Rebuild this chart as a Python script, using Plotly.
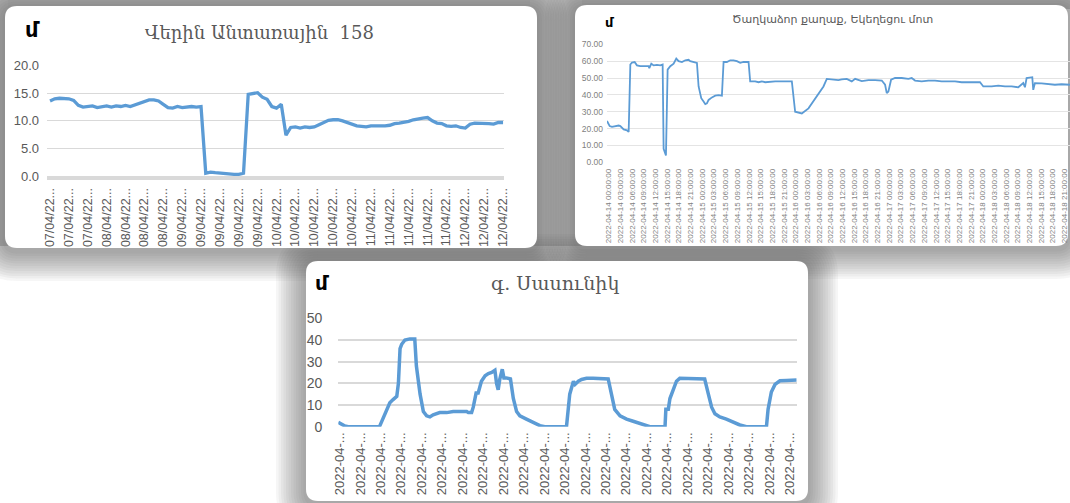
import plotly.graph_objects as go
import pandas as pd

W, H = 1070, 503

# ---------------- data ----------------
c1_title = "Վերին Անտառային  158"
c1_labels = (["07/04/22..."] * 3 + ["08/04/22..."] * 4 + ["09/04/22..."] * 5 +
             ["10/04/22..."] * 5 + ["11/04/22..."] * 5 + ["12/04/22..."] * 3)
c1_values = [13.6, 14.0, 14.1, 14.1, 14.0, 13.7, 12.8, 12.5, 12.6, 12.7,
             12.4, 12.6, 12.7, 12.5, 12.7, 12.6, 12.8, 12.6, 12.9, 13.3,
             13.6, 13.8, 13.8, 13.6, 13.0, 12.4, 12.3, 12.6, 12.4, 12.5,
             12.6, 12.5, 12.6, 0.5, 0.7, 0.6, 0.5, 0.4, 0.3, 0.3,
             0.3, 0.5, 14.8, 15.0, 15.1, 14.3, 13.9, 12.6, 12.3, 13.0,
             7.4, 8.8, 8.9, 8.7, 8.9, 8.8, 8.9, 9.3, 9.7, 10.1,
             10.2, 10.2, 10.0, 9.7, 9.3, 9.1, 9.0, 8.9, 9.1, 9.1,
             9.0, 9.1, 9.2, 9.5, 9.6, 9.7, 9.9, 10.2, 10.4, 10.5,
             10.6, 10.0, 9.6, 9.5, 9.1, 9.0, 9.1, 8.8, 8.7, 9.4,
             9.6, 9.6, 9.6, 9.5, 9.4, 9.7, 9.7]

c2_title = "Ծաղկաձոր քաղաք, Եկեղեցու մոտ"
c2_hours = [-0.43, 0.26, 0.85, 1.71, 2.56, 2.99, 3.42, 3.85, 4.70, 5.13,
            5.56, 5.98, 6.67, 7.26, 8.12, 9.40, 10.26, 10.43, 10.94, 11.54,
            12.39, 13.25, 13.85, 14.10, 14.70, 15.13, 15.81, 16.67, 17.35, 17.95,
            18.80, 19.66, 20.51, 20.94, 21.79, 22.65, 23.08, 23.76, 24.36, 24.79,
            25.21, 25.64, 26.50, 27.35, 28.21, 29.06, 29.49, 30.34, 31.20, 32.05,
            32.91, 33.76, 34.62, 35.90, 36.32, 37.61, 38.46, 39.32, 40.17, 41.45,
            42.74, 44.44, 46.15, 47.01, 47.86, 49.57, 51.28, 52.99, 54.27, 55.13,
            55.98, 57.26, 58.97, 59.83, 61.11, 62.39, 63.25, 64.96, 66.67, 68.38,
            70.09, 70.94, 71.37, 71.79, 72.48, 73.50, 75.21, 76.92, 77.78, 78.63,
            80.34, 82.05, 83.76, 85.47, 87.18, 88.89, 90.60, 92.31, 94.02, 95.30,
            96.15, 98.29, 100.0, 101.71, 103.42, 105.13, 106.41, 106.84, 107.26, 108.12,
            108.72, 108.97, 109.40, 111.11, 112.82, 114.53, 116.24, 118.38]
c2_values = [24.5, 21.5, 21.0, 21.5, 21.8, 21.5, 20.5, 19.5, 19.0, 18.0,
             58.0, 59.2, 59.5, 57.5, 57.0, 57.2, 57.0, 55.8, 58.5, 57.5,
             57.8, 57.5, 58.0, 8.0, 4.0, 55.0, 57.0, 58.5, 61.5, 60.0,
             59.5, 60.5, 60.8, 60.0, 59.5, 59.0, 45.0, 38.0, 36.0, 34.5,
             35.0, 37.0, 38.5, 39.5, 39.8, 39.5, 59.5, 59.5, 60.5, 60.5,
             60.0, 59.0, 59.5, 59.5, 48.0, 48.0, 47.5, 48.0, 47.5, 47.8,
             48.0, 48.0, 48.0, 48.0, 30.0, 29.0, 32.0, 38.0, 42.0, 45.0,
             49.5, 49.2, 48.8, 49.2, 49.5, 48.0, 49.5, 48.2, 48.8, 48.8,
             48.5, 46.0, 41.0, 42.0, 49.0, 50.0, 50.0, 49.5, 50.0, 48.5,
             48.0, 48.5, 48.5, 48.0, 48.0, 48.0, 47.5, 47.5, 47.5, 47.5,
             45.0, 45.0, 45.5, 45.0, 45.0, 44.5, 47.0, 44.5, 50.0, 50.5,
             50.5, 43.0, 47.0, 46.8, 46.5, 46.0, 46.3, 46.0]
c2_label_hours = list(range(0, 118, 3))
c2_labels = [(pd.Timestamp("2022-04-14 00:00:00") + pd.Timedelta(hours=h)).strftime("%Y-%m-%d %H:%M:%S")
             for h in c2_label_hours]

c3_title = "գ. Սասունիկ"
c3_hours = [-0.41, 0.41, 1.22, 2.04, 9.37, 9.78, 10.6, 11.4, 12.2, 13.0,
            13.9, 14.3, 14.7, 15.1, 15.9, 17.1, 18.3, 18.7, 19.6, 20.4,
            21.2, 22.0, 22.8, 24.4, 26.1, 27.7, 29.3, 31.0, 31.4, 32.2,
            32.6, 33.3, 33.8, 34.6, 35.5, 36.3, 37.1, 37.9, 38.3, 38.7,
            39.1, 39.7, 40.1, 40.7, 41.7, 42.4, 43.2, 44.0, 45.6, 47.3,
            48.9, 50.1, 55.4, 56.2, 57.1, 57.5, 58.3, 59.1, 60.3, 61.9,
            63.6, 64.0, 65.6, 66.4, 67.2, 68.5, 70.1, 71.7, 73.3, 75.0,
            75.8, 79.5, 79.7, 80.3, 80.7, 81.5, 82.3, 83.1, 84.8, 88.0,
            89.2, 90.1, 90.9, 91.7, 92.9, 94.5, 96.2, 97.8, 99.4, 104.3,
            104.7, 105.5, 106.4, 107.6, 109.2, 111.7]
c3_values = [2.0, 1.2, 0.3, 0.0, 0.0, 0.5, 4.0, 7.0, 11.0, 12.5,
             14.0, 20.0, 36.0, 38.0, 40.0, 40.5, 40.5, 28.0, 15.0, 7.0,
             5.0, 4.5, 5.5, 6.5, 6.5, 7.0, 7.0, 7.0, 6.5, 6.5,
             9.0, 15.5, 15.5, 21.0, 23.5, 24.5, 25.0, 26.0, 20.0, 17.0,
             22.0, 26.5, 22.5, 22.5, 22.0, 13.0, 7.0, 5.0, 3.5, 2.0,
             0.5, 0.0, 0.0, 15.0, 21.0, 19.5, 21.0, 21.8, 22.3, 22.3,
             22.0, 22.3, 22.0, 15.0, 8.0, 5.0, 3.5, 2.5, 1.5, 0.5,
             0.0, 0.0, 8.0, 8.0, 13.0, 17.0, 21.0, 22.3, 22.3, 22.3,
             22.0, 15.0, 9.0, 6.0, 4.5, 3.5, 2.0, 0.8, 0.0, 0.0,
             8.0, 16.0, 19.5, 21.2, 21.3, 21.5]
c3_label_hours = list(range(0, 111, 5))
c3_labels = ["2022-04-..."] * len(c3_label_hours)

unit_label = "մ"

# ---------------- style ----------------
BLUE = "#5b9bd5"
TXT = "#595959"
GRID = "#d9d9d9"
TICKFONT = "Liberation Sans"
ARM_FONT = "DejaVu Serif"


def px_x(x):
    return x / W


def px_y(y):
    return 1 - y / H


def rrect(x0, y0, x1, y1, r):
    X0, X1 = px_x(x0), px_x(x1)
    Y0, Y1 = px_y(y0), px_y(y1)
    rx, ry = r / W, r / H
    return (f"M {X0+rx},{Y0} L {X1-rx},{Y0} Q {X1},{Y0} {X1},{Y0-ry} "
            f"L {X1},{Y1+ry} Q {X1},{Y1} {X1-rx},{Y1} L {X0+rx},{Y1} "
            f"Q {X0},{Y1} {X0},{Y1+ry} L {X0},{Y0-ry} Q {X0},{Y0} {X0+rx},{Y0} Z")


panels = [(5, 6, 537, 248), (575, 5, 1068, 246), (306, 261, 808, 501)]

shapes = []
# grey backdrop strips
shapes.append(dict(type="rect", xref="paper", yref="paper", x0=0, x1=1, y0=px_y(9), y1=1,
                   fillcolor="#c9c9c9", line_width=0, layer="below"))
shapes.append(dict(type="rect", xref="paper", yref="paper", x0=px_x(530), x1=px_x(582),
                   y0=px_y(246), y1=1, fillcolor="#d2d2d2", line_width=0, layer="below"))
shapes.append(dict(type="rect", xref="paper", yref="paper", x0=0, x1=px_x(8),
                   y0=px_y(246), y1=1, fillcolor="#cfcfcf", line_width=0, layer="below"))
for (x0, y0, x1, y1) in panels:
    for k in range(12, 0, -1):
        d = 2.5 * k
        shapes.append(dict(type="path", xref="paper", yref="paper",
                           path=rrect(x0 - d, y0 - d + 3, x1 + d, y1 + d + 3, 12 + d),
                           fillcolor="rgba(80,80,80,0.05)", line_width=0, layer="below"))
for (x0, y0, x1, y1) in panels:
    shapes.append(dict(type="path", xref="paper", yref="paper", path=rrect(x0, y0, x1, y1, 12),
                       fillcolor="white", line_width=0, layer="below"))

fig = go.Figure()
fig.add_trace(go.Scatter(x=list(range(len(c1_values))), y=c1_values, mode="lines",
                         line=dict(color=BLUE, width=3.3), xaxis="x", yaxis="y"))
fig.add_trace(go.Scatter(x=c2_hours, y=c2_values, mode="lines",
                         line=dict(color=BLUE, width=1.8), xaxis="x2", yaxis="y2"))
fig.add_trace(go.Scatter(x=c3_hours, y=c3_values, mode="lines",
                         line=dict(color=BLUE, width=3.5), xaxis="x3", yaxis="y3"))

c1_tickvals = list(range(0, len(c1_values), 4))

fig.update_layout(
    width=W, height=H, margin=dict(l=0, r=0, t=0, b=0, autoexpand=False),
    paper_bgcolor="white", plot_bgcolor="rgba(0,0,0,0)", showlegend=False,
    hovermode=False,
    shapes=shapes,
    xaxis=dict(domain=[px_x(47), px_x(504)], range=[-0.64, 96.2], anchor="y", automargin=False,
               tickmode="array", tickvals=c1_tickvals, ticktext=c1_labels, tickangle=-90,
               showgrid=False, zeroline=False, showline=True, linecolor=GRID, linewidth=4,
               layer="below traces", ticks="", ticklabelstandoff=3,
               tickfont=dict(family=TICKFONT, size=12.5, color=TXT)),
    yaxis=dict(domain=[px_y(176), px_y(65.7)], range=[0, 20], anchor="x", automargin=False,
               tickmode="array", tickvals=[0, 5, 10, 15, 20], tickformat=".1f",
               showgrid=True, gridcolor=GRID, gridwidth=1, zeroline=False,
               ticks="", ticklabelstandoff=7,
               tickfont=dict(family=TICKFONT, size=13, color=TXT)),
    xaxis2=dict(domain=[px_x(607), 1.0], range=[-0.43, 118.4], anchor="y2", automargin=False,
                tickmode="array", tickvals=c2_label_hours, ticktext=c2_labels, tickangle=-90,
                showgrid=False, zeroline=False, showline=False, ticks="", ticklabelstandoff=4,
                tickfont=dict(family=TICKFONT, size=8, color="#7f7f7f")),
    yaxis2=dict(domain=[px_y(162.3), px_y(44.3)], range=[0, 70], anchor="x2", automargin=False,
                tickmode="array", tickvals=[0, 10, 20, 30, 40, 50, 60, 70], tickformat=".2f",
                showgrid=True, gridcolor="#e4e4e4", gridwidth=1, zeroline=False,
                ticks="", ticklabelstandoff=3,
                tickfont=dict(family=TICKFONT, size=8.5, color="#7f7f7f")),
    xaxis3=dict(domain=[px_x(338.3), px_x(796.7)], range=[-0.4, 111.7], anchor="y3", automargin=False,
                tickmode="array", tickvals=c3_label_hours, ticktext=c3_labels, tickangle=-90,
                showgrid=False, zeroline=False, showline=False, ticks="", ticklabelstandoff=2,
                tickfont=dict(family=TICKFONT, size=13, color=TXT)),
    yaxis3=dict(domain=[px_y(426.7), px_y(318.3)], range=[0, 50], anchor="x3", automargin=False,
                tickmode="array", tickvals=[0, 10, 20, 30, 40, 50], tickformat="d",
                showgrid=True, gridcolor=GRID, gridwidth=1.5, zeroline=False,
                ticks="", ticklabelstandoff=15,
                tickfont=dict(family=TICKFONT, size=14, color=TXT)),
)

ann = []
ann.append(dict(text=c1_title, x=px_x(259), y=px_y(32), xref="paper", yref="paper",
                showarrow=False, xanchor="center", yanchor="middle",
                font=dict(family=ARM_FONT, size=18, color=TXT)))
ann.append(dict(text=c2_title, x=px_x(832), y=px_y(19), xref="paper", yref="paper",
                showarrow=False, xanchor="center", yanchor="middle",
                font=dict(family="DejaVu Sans", size=11, color=TXT)))
ann.append(dict(text=c3_title, x=px_x(555), y=px_y(283), xref="paper", yref="paper",
                showarrow=False, xanchor="center", yanchor="middle",
                font=dict(family=ARM_FONT, size=19, color=TXT)))
for (ux, uy, us) in [(32, 30, 21), (610, 22, 13), (322, 283, 20)]:
    ann.append(dict(text="<b>" + unit_label + "</b>", x=px_x(ux), y=px_y(uy), xref="paper", yref="paper",
                    showarrow=False, xanchor="center", yanchor="middle",
                    font=dict(family="DejaVu Sans", size=us, color="black")))
fig.update_layout(annotations=ann)

fig.write_html("out.html", config={"displayModeBar": False},
               post_script="document.body.style.margin='0px';document.body.style.overflow='hidden';")
